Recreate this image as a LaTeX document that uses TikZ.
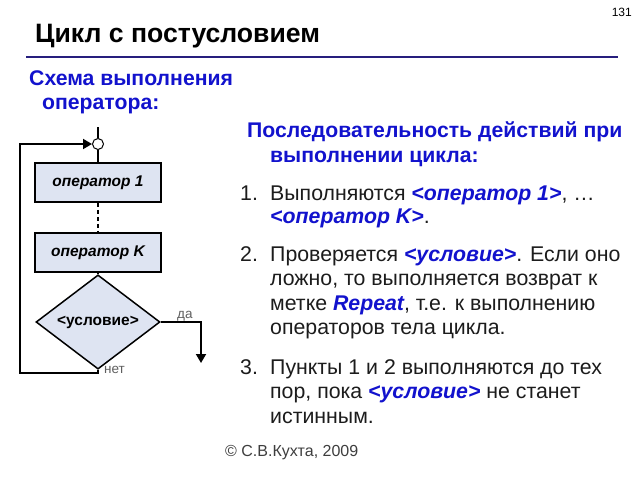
\documentclass[tikz,border=0pt]{standalone}
\usepackage{fontspec}
\setmainfont{Liberation Sans}
\usepackage{tikz}
\usetikzlibrary{shapes.geometric, arrows.meta, positioning, calc}

\definecolor{hdblue}{RGB}{18,18,205}
\definecolor{rulenavy}{RGB}{38,30,125}
\definecolor{boxfill}{RGB}{222,228,242}
\definecolor{bodygray}{RGB}{28,28,28}
\definecolor{lblgray}{RGB}{95,95,95}

\newcommand{\kw}[1]{{\color{hdblue}\bfseries\itshape #1}}

\tikzset{
  txt/.style={anchor=base west, inner sep=0, text=bodygray, font=\fontsize{21.3}{24}\selectfont},
  hdr/.style={txt, text=hdblue, font=\bfseries\fontsize{21.2}{24}\selectfont},
  opbox/.style={draw, line width=1.8pt, fill=boxfill, minimum width=126pt, minimum height=39pt, inner sep=0, font=\bfseries\itshape\fontsize{15.5}{18}\selectfont},
  cond/.style={diamond, draw, line width=1.5pt, fill=boxfill, minimum width=124pt, minimum height=70pt, inner sep=0, font=\bfseries\fontsize{15.5}{18}\selectfont},
  conn/.style={circle, draw, line width=1pt, fill=white, minimum size=11pt, inner sep=0},
  flow/.style={line width=1.8pt},
  lbl/.style={inner sep=0, text=lblgray, font=\fontsize{13.5}{15}\selectfont}
}

\begin{document}
\begin{tikzpicture}[x=1pt, y=-1pt]
\useasboundingbox[fill=white] (0,0) rectangle (640,480);

% page header
\node[anchor=base east, inner sep=0, font=\fontsize{12}{14}\selectfont] (pgno) at (632,16) {131};
\node[anchor=base west, inner sep=0, font=\bfseries\fontsize{26.6}{30}\selectfont] (title) at (35,42) {Цикл с постусловием};
\draw[rulenavy, line width=2pt] (26,57) -- (618,57);

% left column heading
\node[hdr] (schema) at (29,85) {Схема выполнения};
\node[hdr] (schema2) at (42,109) {оператора:};

% flowchart
\coordinate (entry) at (98,127);
\node[conn] (rep) at (98,144) {};
\node[opbox] (op1) at (98,182.5) {оператор 1};
\node[opbox] (opk) at (98,252.5) {оператор K};
\node[cond] (cnd) at (98,322) {<условие>};
\coordinate (exit) at (201,363);
\coordinate (back) at (20,373);

\draw[flow] (entry) -- (rep);
\draw[flow] (rep) -- (op1);
\draw[flow, dash pattern=on 4pt off 3pt] (op1) -- (opk);
\draw[flow] (opk) -- (cnd);
\draw[flow, -{Triangle[length=9pt, width=10pt]}] (cnd.east) -| (exit);
\draw[flow, -{Triangle[length=9pt, width=10pt]}] (cnd.south) |- (back) |- (rep.west);

\node[lbl, anchor=base west] (yes) at (177,318) {да};
\node[lbl, anchor=base west] (no) at (104,373) {нет};

% right column
\node[hdr] (seq) at (247,137) {Последовательность действий при};
\node[hdr] (seq2) at (270,162) {выполнении цикла:};

\node[txt] (n1) at (240,200) {1.};
\node[txt] (n2) at (240,261) {2.};
\node[txt] (n3) at (240,374) {3.};

\foreach \i/\y/\t in {1/200/{Выполняются \kw{<оператор 1>}, …},
                      2/223/{\kw{<оператор K>}.},
                      3/261/{Проверяется \kw{<условие>}. Если оно},
                      4/285/{ложно, то выполняется возврат к},
                      5/310/{метке \kw{Repeat}, т.е. к выполнению},
                      6/334/{операторов тела цикла.},
                      7/374/{Пункты 1 и 2 выполняются до тех},
                      8/398/{пор, пока \kw{<условие>} не станет},
                      9/423/{истинным.}} {
    \node[txt] (row\i) at (270,\y) {\t};
}

% footer
\node[anchor=base west, inner sep=0, text=bodygray!85, font=\fontsize{16}{18}\selectfont] (copy) at (225,456) {© С.В.Кухта, 2009};

\end{tikzpicture}
\end{document}
